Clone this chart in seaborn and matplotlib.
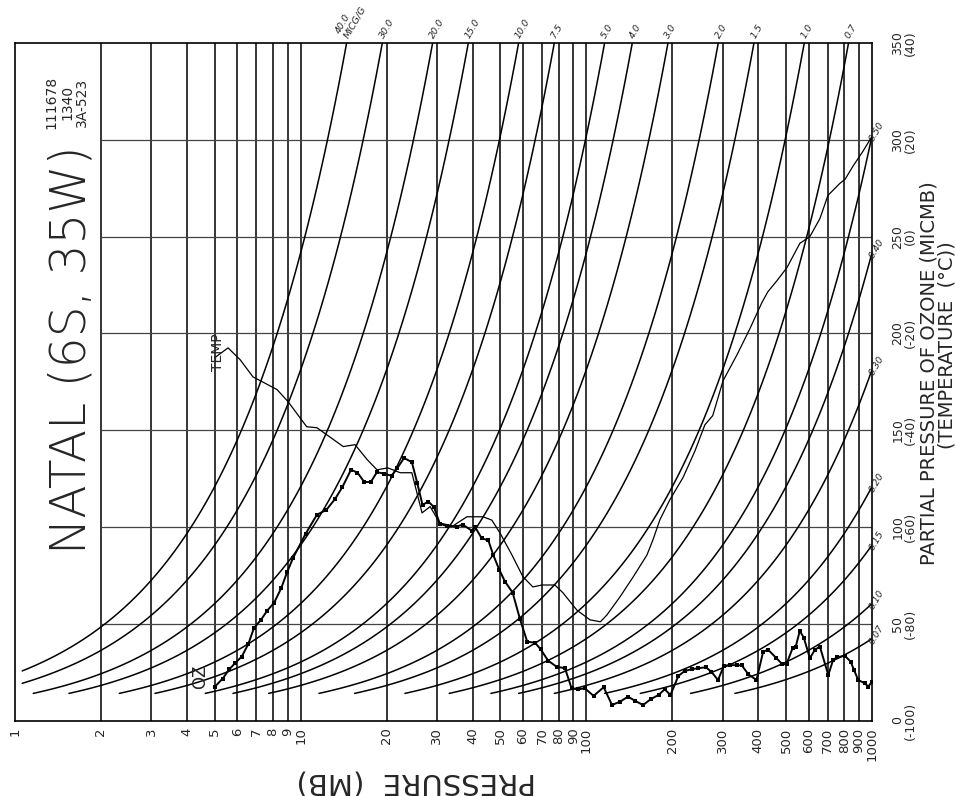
import numpy as np
import pandas as pd
import matplotlib
matplotlib.use('Agg')
import matplotlib.pyplot as plt
from matplotlib.transforms import offset_copy
import seaborn as sns

# ozone sounding, partial pressure (micro-mb) against pressure (mb)
oz_pres = [5.01, 5.33, 5.63, 5.89, 6.22, 6.56, 6.86, 7.26, 7.64, 8.08, 8.55, 8.98, 9.42,
           10.4, 11.4, 12.3, 13.2, 14.0, 15.0, 15.8, 16.7, 17.6, 18.5, 19.6, 20.8, 21.8,
           23.0, 24.5, 25.6, 26.7, 28.0, 29.3, 30.7, 32.4, 35.2, 36.9, 39.7, 40.8, 43.0,
           45.4, 47.2, 49.6, 51.9, 55.2, 58.6, 62.1, 66.1, 69.2, 73.5, 78.7, 84.2, 88.8,
           93.7, 98.9, 106, 115, 123, 131, 140, 148, 158, 168, 179, 188, 197, 210, 221,
           234, 246, 262, 274, 289, 303, 318, 336, 350, 369, 394, 416, 433, 463, 485,
           502, 527, 540, 559, 578, 606, 631, 657, 703, 731, 755, 804, 842, 865, 895,
           945, 970, 1000]
oz_pp = [17.5, 21.6, 26.5, 29.6, 33.0, 39.6, 47.7, 52.0, 56.8, 60.9, 68.4, 76.9, 84.2,
         96.4, 106.3, 108.8, 114.5, 120.6, 129.5, 128.1, 123.2, 123.2, 128.3, 127.5, 126.4,
         130.4, 135.6, 133.5, 122.6, 111.4, 113.1, 110.2, 101.6, 100.6, 100.2, 101.2, 98.1,
         99.9, 94.2, 93.0, 85.6, 77.8, 71.8, 66.1, 52.3, 40.7, 40.2, 36.8, 30.9, 27.8,
         27.0, 16.6, 16.1, 16.6, 12.7, 17.2, 8.0, 9.7, 12.3, 10.2, 8.0, 11.0, 13.2, 16.1,
         13.2, 23.0, 25.6, 26.5, 27.0, 27.5, 25.2, 20.9, 28.2, 28.7, 28.5, 28.5, 23.9,
         20.9, 35.6, 36.5, 32.2, 29.1, 29.1, 37.3, 37.8, 46.4, 42.5, 32.2, 36.5, 38.2,
         23.5, 31.3, 32.7, 33.4, 30.4, 26.1, 20.9, 19.2, 17.5, 20.1]

# temperature sounding (deg C) against pressure (mb)
temp_pres = [5.01, 5.57, 6.13, 6.81, 8.26, 9.03, 10.5, 11.4, 14.1, 15.5, 17.1, 18.5,
             20.2, 22.3, 24.5, 26.6, 28.4, 30.7, 34.1, 38.2, 43.5, 46.7, 49.8, 54.9,
             60.0, 65.0, 69.9, 77.6, 82.8, 92.7, 103, 112, 118, 131, 146, 163, 171,
             181, 196, 218, 240, 260, 277, 301, 337, 374, 412, 432, 465, 504, 559,
             606, 657, 701, 772, 804, 857, 929, 1000]
temp_c = [-25.0, -23.0, -25.4, -29.0, -31.6, -34.1, -39.3, -39.5, -43.4, -43.0, -46.1,
          -48.2, -47.8, -48.8, -48.8, -57.1, -55.8, -59.2, -59.8, -57.9, -57.9, -58.6,
          -61.2, -65.8, -70.3, -72.4, -72.0, -72.0, -73.6, -77.2, -79.2, -79.6, -78.2,
          -74.5, -70.3, -65.8, -62.7, -58.5, -54.4, -49.8, -44.3, -38.9, -37.0, -29.8,
          -24.4, -19.0, -13.6, -11.4, -9.1, -6.4, -1.4, 0.0, 3.7, 8.5, 11.0, 11.8,
          14.5, 17.6, 20.7]

# lines of constant mixing ratio (micrograms per gram)
mix_ratios = [40.0, 30.0, 20.0, 15.0, 10.0, 7.5, 5.0, 4.0, 3.0, 2.0, 1.5, 1.0, 0.7,
              0.5, 0.4, 0.3, 0.2, 0.15, 0.10, 0.07]
mix_labels = ['40.0\nMICG/G', '30.0', '20.0', '15.0', '10.0', '7.5', '5.0', '4.0', '3.0',
              '2.0', '1.5', '1.0', '0.7', '0.50', '0.40', '0.30', '0.20', '0.15', '0.10',
              '0.07']

pres_ticks = [1, 2, 3, 4, 5, 6, 7, 8, 9, 10, 20, 30, 40, 50, 60, 70, 80, 90, 100,
              200, 300, 400, 500, 600, 700, 800, 900, 1000]
pp_ticks = [0, 50, 100, 150, 200, 250, 300, 350]
temp_ticks = [-100, -80, -60, -40, -20, 0, 20, 40]

W, H = 955, 796


def fx(px):
    return px / W


def fy(py):
    return 1 - py / H


sns.set_theme(style='white')
plt.rcParams['font.family'] = ['DejaVu Sans']

fig = plt.figure(figsize=(W / 100, H / 100), dpi=100)
ax = fig.add_axes([fx(15), fy(720.5), fx(872) - fx(15), fy(43) - fy(720.5)])
ax.set_xscale('log')
ax.set_xlim(1, 1000)
ax.set_ylim(0, 350)

# grid: vertical at every pressure tick, horizontal from 2 mb onwards
ax.vlines(pres_ticks[1:-1], 0, 350, color='black', lw=1.1, zorder=1)
ax.hlines(pp_ticks[1:-1], 2, 1000, color='#444444', lw=0.9, zorder=1)

# mixing ratio curves
k_fac = 29.0 / 48.0
rows = []
for r in mix_ratios:
    k = r * k_fac
    p = np.geomspace(max(1.06, 14.0 / k), min(1000, 350.0 / k), 120)
    rows.append(pd.DataFrame({'p': p, 'v': k * p, 'r': r}))
mix_df = pd.concat(rows)
sns.lineplot(data=mix_df, x='p', y='v', units='r', estimator=None, sort=False,
             color='black', lw=1.1, ax=ax, zorder=2)

for r, lab in zip(mix_ratios, mix_labels):
    k = r * k_fac
    if 350.0 / k <= 1000:
        tr = offset_copy(ax.transData, fig=fig, x=3, y=3, units='dots')
        ax.text(350.0 / k, 350, lab, transform=tr, rotation=60, rotation_mode='anchor',
                ha='left', va='bottom', fontsize=6.8, style='italic', clip_on=False,
                linespacing=1.0)
    else:
        tr = offset_copy(ax.transData, fig=fig, x=3, y=-7, units='dots')
        ax.text(1000, k * 1000, lab, transform=tr, rotation=60, rotation_mode='anchor',
                ha='left', va='bottom', fontsize=6.8, style='italic', clip_on=False)

# temperature trace on the shared axis: 0..350 <-> -100..40 C
temp_df = pd.DataFrame({'p': temp_pres, 'v': [(t + 100) * 2.5 for t in temp_c]})
sns.lineplot(data=temp_df, x='p', y='v', estimator=None, sort=False,
             color='black', lw=0.9, ax=ax, zorder=3)

# ozone trace
oz_df = pd.DataFrame({'p': oz_pres, 'v': oz_pp})
sns.lineplot(data=oz_df, x='p', y='v', estimator=None, sort=False, color='black',
             lw=1.4, marker='s', markersize=3.2, markeredgewidth=0, ax=ax, zorder=4)

ax.set_xlabel('')
ax.set_ylabel('')
for s in ax.spines.values():
    s.set_color('black')
    s.set_linewidth(1.2)

ax.set_xticks(pres_ticks, labels=[str(p) for p in pres_ticks])
ax.xaxis.set_minor_locator(matplotlib.ticker.NullLocator())
ax.tick_params(axis='x', length=0, pad=5, labelsize=9.5, labelrotation=90)

ax.yaxis.tick_right()
ax.set_yticks(pp_ticks, labels=[f'{v}\n({t})' for v, t in zip(pp_ticks, temp_ticks)])
ax.tick_params(axis='y', length=0, pad=14, labelsize=9, labelrotation=90)
for lbl in ax.get_yticklabels():
    lbl.set_ha('left')
    lbl.set_va('center')
    lbl.set_multialignment('center')
    lbl.set_linespacing(0.95)

# texts
fig.text(fx(72), fy(350), 'NATAL (6S, 35W)', rotation=90, ha='center', va='center',
         fontsize=35, fontweight=200)
fig.text(fx(67), fy(102), '111678\n1340\n3A-523', rotation=90, ha='center', va='center',
         fontsize=10, multialignment='center', linespacing=1.1)
fig.text(fx(218), fy(352), 'TEMP', rotation=90, ha='center', va='center', fontsize=10)
fig.text(fx(200), fy(677), 'OZ', rotation=90, ha='center', va='center', fontsize=12)
fig.text(fx(929), fy(373), 'PARTIAL PRESSURE OF OZONE (MICMB)', rotation=90,
         ha='center', va='center', fontsize=14)
fig.text(fx(947), fy(345), '(TEMPERATURE  (\u00b0C))', rotation=90,
         ha='center', va='center', fontsize=14)
fig.text(fx(416), fy(781), 'PRESSURE  (MB)', rotation=180, ha='center', va='center',
         fontsize=21)

fig.savefig('out.png', dpi=100, facecolor='white')
